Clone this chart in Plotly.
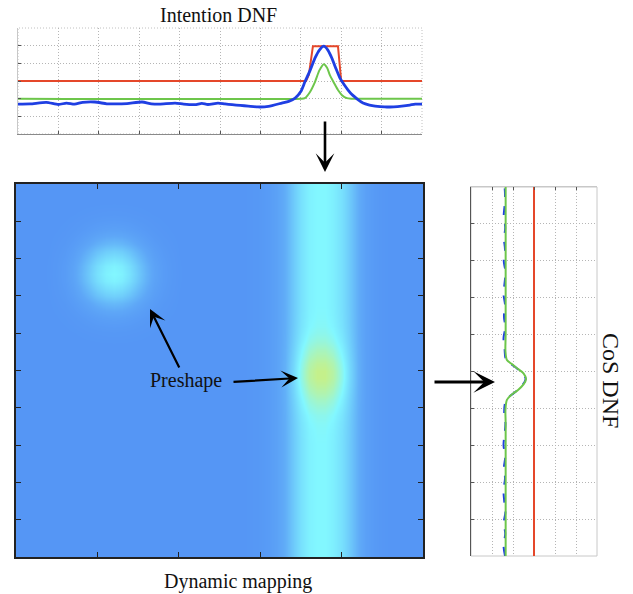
import numpy as np
import plotly.graph_objects as go

W, H = 633, 594

# ---------------- Intention DNF (top panel) ----------------
red_x = [0, 71.3, 72.0, 73.0, 79.2, 80.0, 100]
red_y = [3, 3, 3.35, 4.97, 4.97, 3, 3]

green_x = [0, 70.0, 71.0, 72.2, 73.5, 74.6, 75.7, 76.5, 77.2, 78.2, 79.2, 80.2, 81.4, 82.5, 100]
green_y = [2, 2, 2.03, 2.35, 2.94, 3.6, 3.95, 3.75, 3.33, 2.9, 2.49, 2.2, 2.03, 2.0, 2]

blue_x = [0, 3, 7, 10, 12, 14, 16, 19, 22, 24, 27, 30.7, 33, 35, 38.9, 41, 43.8, 45.5,
          47, 49.5, 51.2, 53, 55, 57, 59.4, 62, 65.3, 67, 68.6, 70, 71.0, 72.3, 73.5,
          74.6, 75.7, 76.7, 77.7, 78.7, 79.7, 80.7, 81.7, 82.6, 83.4, 84.4, 85.4, 87,
          88.4, 90.8, 93, 95, 97, 98.3, 100]
blue_y = [1.69, 1.70, 1.79, 1.67, 1.75, 1.69, 1.79, 1.81, 1.71, 1.70, 1.72, 1.81, 1.71,
          1.69, 1.75, 1.69, 1.66, 1.73, 1.67, 1.75, 1.70, 1.66, 1.62, 1.58, 1.53, 1.56,
          1.75, 1.85, 2.03, 2.4, 2.94, 3.6, 4.29, 4.75, 4.97, 4.75, 4.29, 3.7, 3.16, 2.8,
          2.49, 2.25, 2.09, 1.9, 1.75, 1.64, 1.58, 1.53, 1.54, 1.58, 1.64, 1.69, 1.69]

top_xticks = [0, 10, 20, 30, 40, 50, 60, 70, 80, 90, 100]
top_yticks = [0, 1, 2, 3, 4, 5, 6]

# ---------------- Dynamic mapping (heatmap) ----------------
heat_x = list(range(0, 101, 2))
heat_y = list(range(0, 101, 2))
# activation along x of the vertical stripe (one value per column)
stripe_x = [0, 0, 0, 0, 0, 0, 0, 0, 0, 0,
            0, 0, 0, 0, 0, 0, 0, 0, 0, 0,
            0, 0, 0, 0, 0, 0, 0, 0, 0, 0.01,
            0.02, 0.04, 0.08, 0.15, 0.27, 0.39, 0.47, 0.50, 0.50, 0.46,
            0.38, 0.27, 0.15, 0.07, 0.03, 0.01, 0, 0, 0, 0, 0]
# upper-left preshape blob: column and row profiles
blob1_x = [0, 0, 0, 0, 0.01, 0.04, 0.09, 0.19, 0.35,
           0.55, 0.77, 0.94, 1.0, 0.94, 0.77, 0.55, 0.35, 0.19, 0.09,
           0.04, 0.01, 0, 0, 0, 0, 0, 0, 0, 0,
           0, 0, 0, 0, 0, 0, 0, 0, 0, 0,
           0, 0, 0, 0, 0, 0, 0, 0, 0, 0, 0, 0]
blob1_y = [0, 0, 0, 0, 0, 0, 0, 0, 0, 0,
           0, 0, 0, 0, 0, 0, 0, 0, 0, 0,
           0, 0, 0, 0, 0, 0, 0, 0, 0, 0.01,
           0.03, 0.07, 0.14, 0.25, 0.41, 0.61, 0.80, 0.95, 1.0, 0.95,
           0.80, 0.61, 0.41, 0.25, 0.14, 0.07, 0.03, 0.01, 0, 0, 0]
blob1_amp = 0.5
# central preshape blob (on the stripe)
blob2_x = [0, 0, 0, 0, 0, 0, 0, 0, 0, 0,
           0, 0, 0, 0, 0, 0, 0, 0, 0, 0,
           0, 0, 0, 0, 0, 0, 0, 0, 0, 0,
           0, 0, 0, 0.05, 0.2, 0.5, 0.85, 1.0, 1.0, 0.85,
           0.5, 0.2, 0.05, 0, 0, 0, 0, 0, 0, 0, 0]
blob2_y = [0, 0, 0, 0, 0, 0, 0, 0, 0, 0,
           0, 0, 0, 0, 0, 0, 0.01, 0.03, 0.07, 0.15,
           0.28, 0.45, 0.64, 0.83, 0.97, 0.97, 0.83, 0.64, 0.45, 0.28,
           0.15, 0.07, 0.03, 0.01, 0, 0, 0, 0, 0, 0,
           0, 0, 0, 0, 0, 0, 0, 0, 0, 0, 0]
blob2_amp = 0.36
heat_xticks = [20, 40, 60, 80]
heat_yticks = [10, 20, 30, 40, 50, 60, 70, 80, 90]

# ---------------- CoS DNF (right panel, vertical) ----------------
cos_red_x = [3, 3]
cos_red_y = [0, 100]
cos_green_y = [0, 36, 39.6, 42.3, 43.8, 45.0, 46.5, 48.0, 49.5, 50.9, 52.0, 53.1, 55.5, 60, 100]
cos_green_x = [1.65, 1.65, 1.64, 1.71, 1.95, 2.24, 2.5, 2.62, 2.5, 2.19, 1.95, 1.71, 1.64, 1.65, 1.65]
cos_blue_y = [0, 3, 6, 9, 12, 15, 18, 21, 24, 27, 30, 33, 36, 39, 42.3, 45, 48, 50.9, 53.1,
              56, 59, 62, 65, 68, 71, 74, 77, 80, 83, 86, 89, 92, 95, 98, 100]
cos_blue_x = [1.62, 1.55, 1.63, 1.56, 1.64, 1.58, 1.55, 1.62, 1.57, 1.63, 1.55, 1.6, 1.64,
              1.58, 1.68, 2.22, 2.6, 2.18, 1.68, 1.6, 1.55, 1.63, 1.57, 1.62, 1.55, 1.6,
              1.64, 1.56, 1.62, 1.57, 1.63, 1.56, 1.6, 1.62, 1.6]
cos_xticks = [0, 1, 2, 3, 4, 5, 6]
cos_yticks = [0, 10, 20, 30, 40, 50, 60, 70, 80, 90, 100]

RED, GREEN, BLUE = "#E5472A", "#6DC64B", "#1F3FE3"
GRID = "#B5B5B5"
FONT = "Liberation Serif"


def px(x):
    return x / W


def py(y):
    return 1 - y / H


z = (np.outer(np.ones(len(heat_y)), stripe_x)
     + blob1_amp * np.outer(blob1_y, blob1_x)
     + blob2_amp * np.outer(blob2_y, blob2_x))

fig = go.Figure()

# heatmap
fig.add_trace(go.Heatmap(
    x=heat_x, y=heat_y, z=z, zmin=0, zmax=1, zsmooth="best", showscale=False,
    colorscale=[[0, "#5596F5"], [0.12, "#5EA7F7"], [0.3, "#70CFFB"], [0.5, "#82F7FF"],
                [0.7, "#ABF4B8"], [0.9, "#CDEF7C"], [1, "#D8EE60"]],
    xaxis="x2", yaxis="y2", hoverinfo="skip"))

# top panel
fig.add_trace(go.Scatter(x=red_x, y=red_y, mode="lines", line=dict(color=RED, width=2),
                         xaxis="x", yaxis="y"))
fig.add_trace(go.Scatter(x=green_x, y=green_y, mode="lines",
                         line=dict(color=GREEN, width=2, shape="spline", smoothing=0.6),
                         xaxis="x", yaxis="y"))
fig.add_trace(go.Scatter(x=blue_x, y=blue_y, mode="lines",
                         line=dict(color=BLUE, width=2.8, shape="spline", smoothing=0.6),
                         xaxis="x", yaxis="y"))

# right panel
fig.add_trace(go.Scatter(x=cos_red_x, y=cos_red_y, mode="lines", line=dict(color=RED, width=2),
                         xaxis="x3", yaxis="y3"))
fig.add_trace(go.Scatter(x=cos_blue_x, y=cos_blue_y, mode="lines",
                         line=dict(color=BLUE, width=2, dash="dash", shape="spline"),
                         xaxis="x3", yaxis="y3"))
fig.add_trace(go.Scatter(x=cos_green_x, y=cos_green_y, mode="lines",
                         line=dict(color=GREEN, width=2, shape="spline", smoothing=0.8),
                         xaxis="x3", yaxis="y3"))

grid_axis = dict(showgrid=True, gridcolor=GRID, griddash="1px,2px", gridwidth=1, zeroline=False,
                 showticklabels=False, ticks="inside", ticklen=3, tickcolor="#555")

fig.update_layout(
    width=W, height=H, margin=dict(l=0, r=0, t=0, b=0),
    paper_bgcolor="white", plot_bgcolor="white", showlegend=False,
    xaxis=dict(domain=[px(18), px(422)], range=[0, 100], tickvals=top_xticks,
               showline=True, linecolor="#8A8A8A", anchor="y", **grid_axis),
    yaxis=dict(domain=[py(134), py(28)], range=[0, 6], tickvals=top_yticks,
               showline=True, linecolor="#C8C8C8", anchor="x", **grid_axis),
    xaxis2=dict(domain=[px(16), px(423)], range=[0, 100], tickvals=heat_xticks,
                showgrid=False, zeroline=False, showticklabels=False, showline=True,
                linecolor="#222", linewidth=1.5, mirror="ticks", ticks="inside",
                ticklen=5, tickcolor="#222", anchor="y2"),
    yaxis2=dict(domain=[py(557), py(184)], range=[0, 100], tickvals=heat_yticks,
                showgrid=False, zeroline=False, showticklabels=False, showline=True,
                linecolor="#222", linewidth=1.5, mirror="ticks", ticks="inside",
                ticklen=5, tickcolor="#222", anchor="x2"),
    xaxis3=dict(domain=[px(471), px(597)], range=[0, 6], tickvals=cos_xticks, side="top",
                showline=True, linecolor="#C8C8C8", anchor="y3", **grid_axis),
    yaxis3=dict(domain=[py(556), py(187)], range=[0, 100], tickvals=cos_yticks,
                showline=True, linecolor="#555", anchor="x3", **grid_axis),
)

# light box edges
fig.add_shape(type="rect", xref="paper", yref="paper", x0=px(18), x1=px(422), y0=py(134),
              y1=py(28), line=dict(color="#C0C0C0", width=1, dash="1px,2px"), layer="below")
fig.add_shape(type="rect", xref="paper", yref="paper", x0=px(471), x1=px(597), y0=py(556),
              y1=py(187), line=dict(color="#C8C8C8", width=1), layer="below")

txt = dict(family=FONT, size=20, color="#111")
labels = [("Intention DNF", 218, 15, 0, 20),
          ("Dynamic mapping", 238, 581, 0, 20),
          ("Preshape", 186, 380, 0, 20),
          ("CoS DNF", 611, 380, 90, 24)]
for t, x, y, ang, sz in labels:
    fig.add_annotation(text=t, x=px(x), y=py(y), xref="paper", yref="paper",
                       xanchor="center", yanchor="middle", showarrow=False, textangle=ang,
                       font=dict(family=FONT, size=sz, color="#111"))

# arrows
arrows = [((325, 172), (325, 120), 2.6, 1.2),
          ((150, 309), (180, 369), 2.2, 1.3),
          ((298, 378), (232, 382), 2.2, 1.3),
          ((495, 382), (433, 382), 3, 1.2)]
for (hx, hy), (tx, ty), w, s in arrows:
    fig.add_annotation(x=px(hx), y=py(hy), xref="paper", yref="paper", text="",
                       showarrow=True, ax=tx - hx, ay=ty - hy, arrowhead=3,
                       arrowwidth=w, arrowsize=s, arrowcolor="#000", standoff=0)

fig.write_html("out.html", config={"displayModeBar": False},
               post_script="document.body.style.margin='0';")
